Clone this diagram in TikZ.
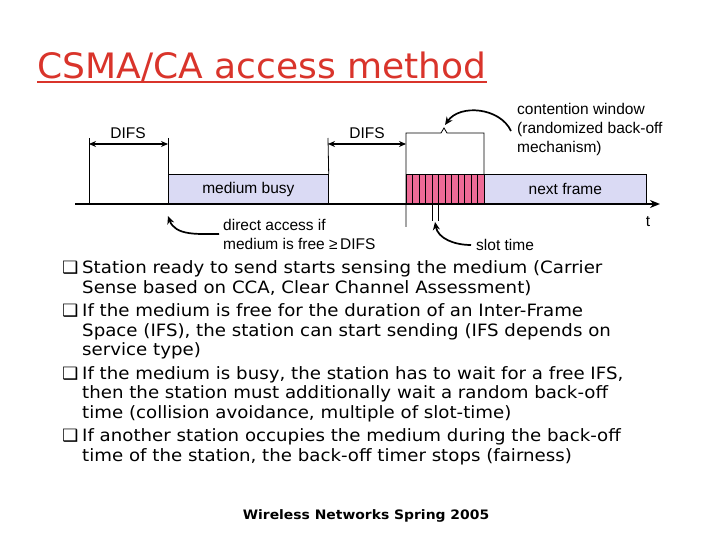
\documentclass[tikz,border=0pt]{standalone}
\usepackage{fontspec}
\setmainfont{Liberation Sans}
\newfontfamily\verdana[FakeStretch=1.07]{DejaVu Sans}
\newfontfamily\titlefont[FakeStretch=1.03]{DejaVu Sans}
\usetikzlibrary{arrows.meta, positioning}
\definecolor{csmaRed}{HTML}{D9342B}
\definecolor{busyBlue}{HTML}{DADAF4}
\definecolor{slotPink}{HTML}{EE6A96}

\begin{document}
\begin{tikzpicture}[x=1pt, y=-1pt,
  lbl/.style={font=\fontsize{15.5}{19}\selectfont, inner sep=0pt},
  frame/.style={draw=black, line width=0.7pt, fill=busyBlue, inner sep=0pt,
    minimum height=30pt, anchor=north west, font=\fontsize{15.5}{19}\selectfont},
  bul/.style={font=\verdana\fontsize{17}{19.5}\selectfont, inner sep=0pt,
    anchor=north west},
  gap/.style={{Stealth[length=7pt,width=6pt]}-{Stealth[length=7pt,width=6pt]},
    line width=1.3pt},
  bendarrow/.style={-{Stealth[length=8pt,width=7pt]}, line width=1.7pt}]
  \useasboundingbox (0,0) rectangle (720,540);

  % title
  \node[font=\titlefont\fontsize{35}{40}\selectfont, text=csmaRed, inner sep=0pt,
    anchor=base west] (title) at (37,79) {CSMA/CA access method};
  \draw[csmaRed, line width=1.6pt] ([yshift=-3pt]title.base west) -- ([yshift=-3pt]title.base east);

  % time line
  \coordinate (t0) at (75,204);
  \coordinate (tend) at (660,204);
  \node[frame, minimum width=160pt] (busy) at (168,174) {medium busy};
  \node[frame, minimum width=78pt, fill=slotPink] (cw) at (406,174) {};
  \node[frame, minimum width=162pt] (next) at (484,174) {next frame};
  \foreach \i in {1,...,11}
    \draw[line width=0.7pt] (406+\i*6.5,174) -- ++(0,30);
  \draw[line width=2pt, -{Stealth[length=10pt,width=8pt]}] (t0) -- (tend);
  \node[lbl] (tlabel) at (648,222) {t};

  % marks
  \coordinate (m1) at (89,138);
  \coordinate (m2) at (168,138);
  \coordinate (m3) at (328,138);
  \draw[line width=0.8pt] (m1) -- (89,204);
  \draw[line width=0.8pt] (m2) -- (busy.north west);
  \draw[line width=0.8pt] (m3) -- (busy.north east);
  \draw[line width=0.8pt] (406,227) -- (406,133) -- (441,133) -- (444,128)
    -- (447,133) -- (484,133) -- (next.north west);
  \draw[line width=0.8pt] (432,204) -- (432,221);
  \draw[line width=0.8pt] (438,204) -- (438,221);

  % DIFS spans
  \coordinate (d1l) at (89,144);
  \coordinate (d1r) at (168,144);
  \coordinate (d2l) at (328,144);
  \coordinate (d2r) at (406,144);
  \draw[gap] (d1l) -- (d1r);
  \draw[gap] (d2l) -- (d2r);
  \node[lbl] (difsA) at (128,133) {DIFS};
  \node[lbl] (difsB) at (367,133) {DIFS};

  % notes
  \node[lbl, align=left, anchor=west] (cwnote) at (517,129)
    {contention window\\(randomized back-off\\mechanism)};
  \coordinate (peak) at (445,125);
  \draw[bendarrow] ([xshift=-6pt,yshift=-2pt]cwnote.west) to[out=115,in=55] (peak);

  \node[lbl, align=left, anchor=west] (direct) at (223,234)
    {direct access if\\medium is free ≥\,DIFS};
  \coordinate (hit) at (168,216);
  \draw[bendarrow] ([xshift=-4pt]direct.west) to[out=180,in=-70] (hit);

  \node[lbl, anchor=west] (slot) at (476,245) {slot time};
  \coordinate (slothit) at (435,222);
  \draw[bendarrow] ([xshift=-5pt]slot.west) to[out=180,in=-80] (slothit);

  % bullets
  \node[bul] (b1) at (62,260) {\begin{tabular}{@{}l@{}l@{}}\makebox[20pt][l]{❑}&Station ready to send starts sensing the medium (Carrier\\
    &Sense based on CCA, Clear Channel Assessment)\end{tabular}};
  \node[bul, below=3.5pt of b1.south west, anchor=north west] (b2) {\begin{tabular}{@{}l@{}l@{}}\makebox[20pt][l]{❑}&If the medium is free for the duration of an Inter-Frame\\
    &Space (IFS), the station can start sending (IFS depends on\\
    &service type)\end{tabular}};
  \node[bul, below=3.5pt of b2.south west, anchor=north west] (b3) {\begin{tabular}{@{}l@{}l@{}}\makebox[20pt][l]{❑}&If the medium is busy, the station has to wait for a free IFS,\\
    &then the station must additionally wait a random back-off\\
    &time (collision avoidance, multiple of slot-time)\end{tabular}};
  \node[bul, below=3.5pt of b3.south west, anchor=north west] (b4) {\begin{tabular}{@{}l@{}l@{}}\makebox[20pt][l]{❑}&If another station occupies the medium during the back-off\\
    &time of the station, the back-off timer stops (fairness)\end{tabular}};

  % footer
  \node[font=\verdana\bfseries\fontsize{13}{15}\selectfont, inner sep=0pt] (foot) at (366,516)
    {Wireless Networks Spring 2005};
\end{tikzpicture}
\end{document}
